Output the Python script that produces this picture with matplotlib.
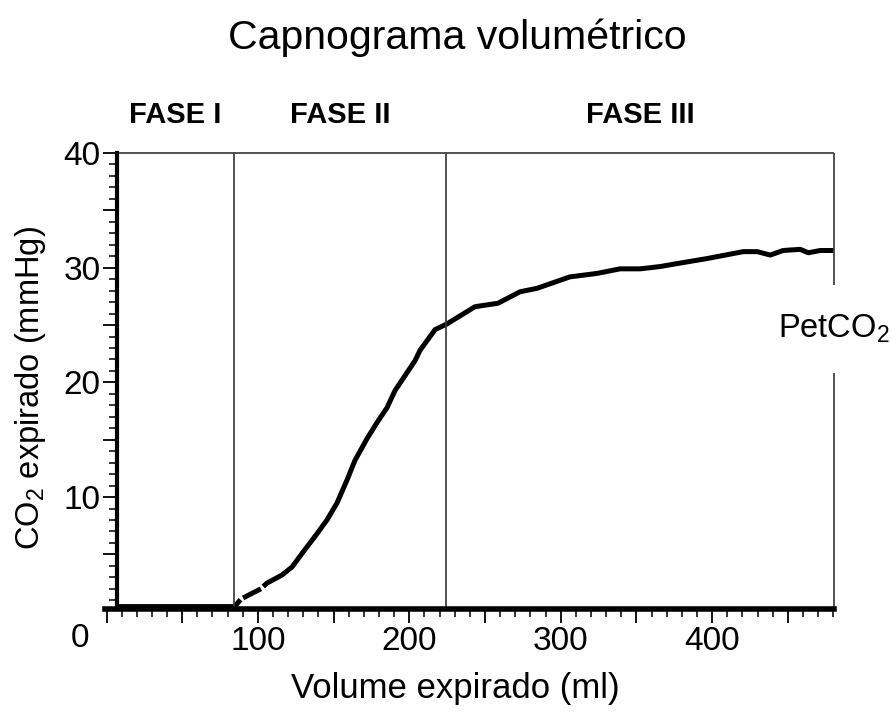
import numpy as np
import matplotlib
matplotlib.use("Agg")
import matplotlib.pyplot as plt
from matplotlib.ticker import MultipleLocator, FuncFormatter

plt.rcParams["font.family"] = ["Liberation Sans", "DejaVu Sans"]
plt.rcParams["mathtext.fontset"] = "custom"
plt.rcParams["mathtext.rm"] = "Liberation Sans"
plt.rcParams["mathtext.it"] = "Liberation Sans:italic"

# volume (ml) / CO2 (mmHg); nan = gap in the trace
volume = [7, 30, 60, 84.9, 86.5, 88.5, np.nan, 90.2, 96, 102.0, np.nan, 103.5, 106.0,
          115.9, 122.5, 129.8, 139.0, 145.6, 152.3, 158.9, 164.1, 172.1, 178.7,
          185.3, 190.6, 195.2, 203.8, 207.1, 217.0, 224.9, 243.4, 258.6, 273.1,
          284.3, 306.1, 324.0, 339.2, 352.5, 365.7, 374.3, 396.8, 420.6, 429.8,
          438.4, 446.9, 458.2, 463.5, 471.4, 481.3]
co2 = [0.45, 0.45, 0.45, 0.45, 0.75, 1.05, np.nan, 1.2, 1.6, 2.0, np.nan, 2.2, 2.5,
       3.2, 3.9, 5.2, 6.8, 8.0, 9.5, 11.5, 13.2, 15.1, 16.5,
       17.8, 19.3, 20.2, 21.9, 22.8, 24.6, 25.1, 26.6, 26.9, 27.9,
       28.2, 29.2, 29.5, 29.9, 29.9, 30.1, 30.3, 30.8, 31.4, 31.4,
       31.1, 31.5, 31.6, 31.3, 31.5, 31.5]

phase_bounds = [7, 84.2, 224.2, 480.5]
phase_names = ["FASE I", "FASE II", "FASE III"]

XMIN, XMAX = -1, 480.5
YMIN, YMAX = 0.24, 40

fig = plt.figure(figsize=(8.91, 7.21), dpi=100)
ax = fig.add_axes([105 / 891, 1 - 609 / 721, 729 / 891, 456 / 721])
ax.set_xlim(XMIN, XMAX)
ax.set_ylim(YMIN, YMAX)

ax.plot(volume, co2, color="black", lw=3.6, solid_capstyle="butt")

# phase dividers and frame
for xb in phase_bounds[1:3]:
    ax.vlines(xb, YMIN, YMAX, color="#333333", lw=1.2)
ax.hlines(YMAX, phase_bounds[0], XMAX, color="#444444", lw=1.3, clip_on=False)
ax.vlines(XMAX, 28.5, YMAX, color="#444444", lw=1.3, clip_on=False)
ax.vlines(XMAX, YMIN, 20.8, color="#444444", lw=1.3, clip_on=False)

for name, a, b in zip(phase_names, phase_bounds[:-1], phase_bounds[1:]):
    ax.text((a + b) / 2, 43.3, name, ha="center", va="center", fontsize=21,
            fontweight="bold")

ax.text(XMAX, 24.7, "PetCO$_\\mathregular{2}$", ha="center", va="center", fontsize=23.5,
        clip_on=False, bbox=dict(facecolor="white", edgecolor="none", pad=0))

for s in ["top", "right"]:
    ax.spines[s].set_visible(False)
ax.spines["left"].set_position(("data", phase_bounds[0]))
ax.spines["left"].set_linewidth(3)
ax.spines["bottom"].set_linewidth(4)

ax.xaxis.set_major_locator(MultipleLocator(50))
ax.xaxis.set_minor_locator(MultipleLocator(10))
ax.yaxis.set_major_locator(MultipleLocator(5))
ax.yaxis.set_minor_locator(MultipleLocator(1))
ax.xaxis.set_major_formatter(FuncFormatter(lambda v, p: f"{v:.0f}" if v > 0 and v % 100 == 0 else ""))
ax.yaxis.set_major_formatter(FuncFormatter(lambda v, p: f"{v:.0f}" if v > 0 and v % 10 == 0 else ""))
ax.tick_params(which="major", length=10, width=1.3, labelsize=24, pad=2)
ax.tick_params(which="minor", length=6, width=1.1)

ax.text(-17.5, -2.3, "0", ha="center", va="center", fontsize=24, clip_on=False)

ax.set_xlabel("Volume expirado (ml)", fontsize=25)
ax.xaxis.set_label_coords(0.48, -0.138)
ax.set_ylabel("CO$_\\mathregular{2}$ expirado (mmHg)", fontsize=23.5)
ax.yaxis.set_label_coords(-0.078, 0.485)

fig.text(0.513, 1 - 38 / 721, "Capnograma volumétrico", ha="center", va="center", fontsize=29.5)

fig.savefig("out.png", dpi=100, facecolor="white")
plt.close(fig)
